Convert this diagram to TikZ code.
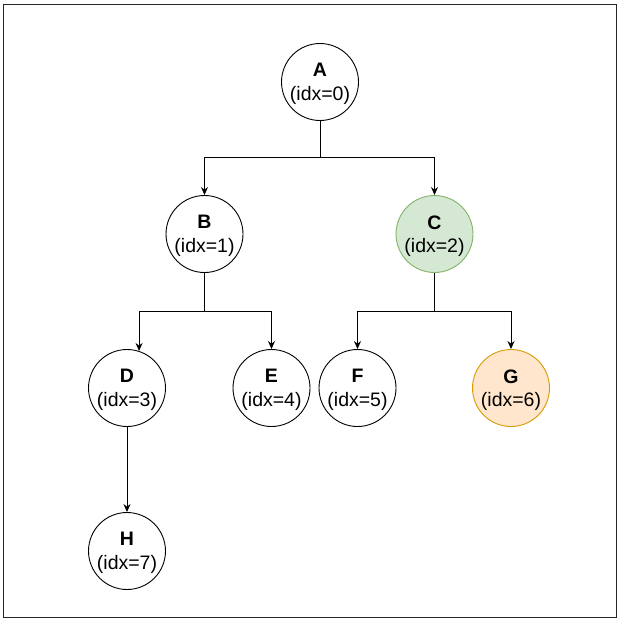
\documentclass[tikz,border=0pt]{standalone}
\usepackage{fontspec}
\setmainfont{Liberation Sans}
\usetikzlibrary{arrows.meta}
\definecolor{cfill}{HTML}{D5E8D4}
\definecolor{cdraw}{HTML}{82B366}
\definecolor{gfill}{HTML}{FFE6CC}
\definecolor{gdraw}{HTML}{D79B00}
\tikzset{
  tnode/.style={circle, draw=black, fill=white, line width=0.9pt, minimum size=77pt, inner sep=0pt, align=center, text depth=-2pt, font=\fontsize{19.5}{23.5}\selectfont},
  green/.style={fill=cfill, draw=cdraw},
  orange/.style={fill=gfill, draw=gdraw},
  link/.style={line width=0.9pt, draw=black},
  arr/.style={link, -{Stealth[length=8pt,width=7pt]}},
}
\begin{document}
\begin{tikzpicture}[x=1pt,y=-1pt]
\useasboundingbox (0,0) rectangle (621,624);
\draw[line width=0.9pt, draw=black!85] (3.5,4) rectangle (616.5,617.5);
\node[tnode] (A) at (320,82) {\textbf{A}\\(idx=0)};
\node[tnode] (B) at (204.5,234) {\textbf{B}\\(idx=1)};
\node[tnode, green] (C) at (434.5,234) {\textbf{C}\\(idx=2)};
\node[tnode] (D) at (127,388) {\textbf{D}\\(idx=3)};
\node[tnode] (E) at (271.5,388) {\textbf{E}\\(idx=4)};
\node[tnode] (F) at (357.5,388) {\textbf{F}\\(idx=5)};
\node[tnode, orange] (G) at (511,388) {\textbf{G}\\(idx=6)};
\node[tnode] (H) at (127,551) {\textbf{H}\\(idx=7)};
\coordinate (ja) at (320,157);
\coordinate (jb) at (204.5,311);
\coordinate (jc) at (434.5,311);
\draw[link] (A.south) -- (ja);
\draw[arr] (ja) -| (B.north);
\draw[arr] (ja) -| (C.north);
\draw[link] (B.south) -- (jb);
\draw[arr] (jb) -| (D.72);
\draw[arr] (jb) -| (E.north);
\draw[link] (C.south) -- (jc);
\draw[arr] (jc) -| (F.north);
\draw[arr] (jc) -| (G.north);
\draw[arr] (D.south) -- (H.north);
\end{tikzpicture}
\end{document}
